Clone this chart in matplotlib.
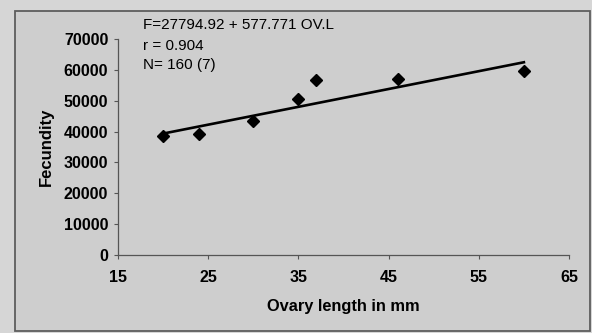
import matplotlib
matplotlib.use('Agg')
import matplotlib.pyplot as plt
from matplotlib.patches import Rectangle

plt.rcParams['font.family'] = ['Liberation Sans', 'DejaVu Sans']

# ovary length (mm) vs fecundity
ovary_len = [20, 24, 30, 35, 37, 46, 60]
fecundity = [38500, 39200, 43400, 50500, 56600, 56900, 59600]

# regression line end points (F = 27794.92 + 577.771 OV.L)
trend_x = [20, 60]
trend_y = [39350, 62460]

xticks = [15, 25, 35, 45, 55, 65]
yticks = [0, 10000, 20000, 30000, 40000, 50000, 60000, 70000]

fig = plt.figure(figsize=(5.92, 3.33), dpi=100)
fig.patch.set_facecolor('#d6d6d6')
# outer chart frame
frame = Rectangle((15/592, 1-331/333), (590-15)/592, (331-11)/333,
                  transform=fig.transFigure, facecolor='#cecece',
                  edgecolor='#5e5e5e', linewidth=1.3, zorder=0)
fig.patches.append(frame)

ax = fig.add_axes([118/592, 1-255/333, (569-118)/592, (255-39)/333])
ax.set_zorder(2)
ax.set_facecolor('none')
ax.plot(trend_x, trend_y, color='black', linewidth=1.9, zorder=2)
ax.plot(ovary_len, fecundity, linestyle='none', marker='D', ms=6,
        color='black', zorder=3)

ax.set_xlim(15, 65)
ax.set_ylim(0, 70000)
ax.set_xticks(xticks)
ax.set_yticks(yticks)
ax.set_xticklabels([str(v) for v in xticks], fontsize=11.5, fontweight='bold')
ax.set_yticklabels([str(v) for v in yticks], fontsize=11.5, fontweight='bold')
for s in ['top', 'right']:
    ax.spines[s].set_visible(False)
for s in ['left', 'bottom']:
    ax.spines[s].set_color('#555555')
    ax.spines[s].set_linewidth(0.9)
ax.tick_params(axis='y', direction='out', length=3, width=0.8, color='#555555', pad=4)
ax.tick_params(axis='x', direction='out', length=3, width=0.8, color='#555555', pad=8)

ax.set_xlabel('Ovary length in mm', fontsize=11.8, fontweight='bold', labelpad=10)
ax.set_ylabel('Fecundity', fontsize=12, fontweight='bold', labelpad=7)

fig.text(143/592, 1-25/333, 'F=27794.92 + 577.771 OV.L', fontsize=11, va='center', zorder=3)
fig.text(143/592, 1-46/333, 'r = 0.904', fontsize=11, va='center', zorder=3)
fig.text(143/592, 1-65/333, 'N= 160 (7)', fontsize=11, va='center', zorder=3)

fig.savefig('out.png', dpi=100)
